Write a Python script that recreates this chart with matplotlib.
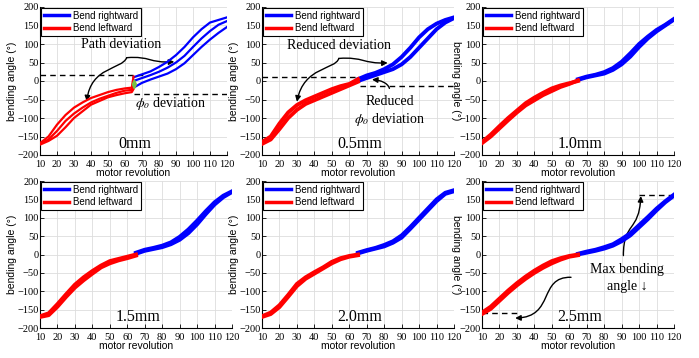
import matplotlib.pyplot as plt
from matplotlib.patches import FancyArrowPatch
from matplotlib.path import Path

plt.rcParams["mathtext.fontset"] = "stix"

SANS = ["Liberation Sans", "DejaVu Sans"]
SERIF = ["Liberation Serif", "DejaVu Serif"]

# x positions (motor revolution) of the read-off samples
X_LEFT = [10, 15, 20, 25, 30, 35, 40, 45, 50, 55, 60, 65]
X_LEFT_0 = [10, 15, 20, 25, 30, 35, 40, 45, 50, 55, 60, 64, 65]
X_RIGHT = [65, 70, 75, 80, 85, 90, 95, 100, 105, 110, 115, 120]

# 0mm
red_0mm = [
    [-168, -150, -118, -92, -72, -58, -46, -38, -30, -24, -20, -18, 12],
    [-170, -158, -135, -108, -88, -72, -58, -48, -40, -32, -26, -24, 0],
    [-172, -162, -148, -125, -100, -82, -64, -54, -44, -38, -33, -30, -22],
]
blue_0mm = [
    [10, 18, 26, 38, 52, 70, 92, 118, 140, 158, 165, 172],
    [0, 8, 16, 25, 36, 50, 68, 92, 115, 135, 152, 162],
    [-18, -5, 4, 12, 20, 32, 48, 70, 92, 112, 130, 146],
]
# 0.5mm
red_05mm = [
    [-165, -150, -115, -85, -65, -52, -42, -32, -22, -14, -8, 5],
    [-170, -158, -130, -100, -78, -62, -52, -42, -32, -22, -12, -2],
]
blue_05mm = [
    [5, 15, 22, 32, 45, 65, 90, 118, 140, 155, 165, 172],
    [0, 8, 16, 24, 32, 45, 65, 90, 115, 140, 158, 170],
]
# 1.0mm
red_10mm = [
    [-165, -145, -122, -100, -80, -60, -45, -32, -20, -12, -6, 0],
    [-168, -150, -128, -106, -85, -66, -52, -38, -27, -16, -8, 2],
]
blue_10mm = [
    [5, 12, 17, 24, 35, 52, 75, 100, 120, 138, 152, 168],
    [3, 10, 15, 20, 30, 45, 66, 92, 115, 134, 150, 166],
]
# 1.5mm
red_15mm = [
    [-168, -160, -135, -108, -82, -62, -45, -30, -18, -12, -6, 0],
    [-170, -165, -142, -115, -90, -70, -52, -35, -24, -16, -10, -3],
]
blue_15mm = [
    [5, 13, 18, 24, 33, 48, 68, 92, 118, 142, 160, 172],
    [2, 10, 15, 20, 28, 40, 58, 82, 110, 136, 156, 170],
]
# 2.0mm
red_20mm = [
    [-168, -158, -138, -110, -80, -62, -48, -35, -20, -10, -4, 0],
    [-170, -162, -143, -115, -86, -66, -52, -38, -24, -13, -6, -2],
]
blue_20mm = [
    [5, 12, 18, 26, 36, 52, 75, 100, 125, 150, 168, 175],
    [3, 10, 16, 22, 32, 46, 70, 95, 120, 145, 165, 172],
]
# 2.5mm
red_25mm = [
    [-158, -142, -120, -98, -78, -60, -44, -30, -18, -10, -4, 0],
    [-162, -148, -126, -104, -84, -66, -50, -36, -24, -14, -6, -2],
]
blue_25mm = [
    [2, 8, 13, 20, 28, 42, 58, 80, 102, 125, 145, 163],
    [0, 5, 10, 16, 24, 36, 52, 74, 96, 120, 142, 160],
]

panel_labels = ["0mm", "0.5mm", "1.0mm", "1.5mm", "2.0mm", "2.5mm"]
x_ticks = list(range(10, 121, 10))
y_ticks = list(range(-200, 201, 50))

W, H = 699, 358
# axes boxes in pixels: left, top, right, bottom
boxes = [
    (40, 7, 227, 155), (262, 7, 454, 155), (482, 7, 674, 155),
    (40, 181, 232, 328), (262, 181, 454, 328), (482, 181, 674, 328),
]
# x pixel of the y label centre
ylabel_px = [12, 234, 456, 12, 234, 456]


def s_arrow(ax, pts, lw=1.0):
    path = Path(pts, [Path.MOVETO, Path.CURVE4, Path.CURVE4, Path.CURVE4])
    ax.add_patch(FancyArrowPatch(path=path, arrowstyle="-|>", mutation_scale=8,
                                 color="black", lw=lw))


fig = plt.figure(figsize=(W / 100, H / 100), dpi=100)

data = [
    (X_LEFT_0, red_0mm, blue_0mm),
    (X_LEFT, red_05mm, blue_05mm),
    (X_LEFT, red_10mm, blue_10mm),
    (X_LEFT, red_15mm, blue_15mm),
    (X_LEFT, red_20mm, blue_20mm),
    (X_LEFT, red_25mm, blue_25mm),
]

axes = []
for i, (l, t, r, b) in enumerate(boxes):
    ax = fig.add_axes([l / W, 1 - b / H, (r - l) / W, (b - t) / H])
    axes.append(ax)
    xl, reds, blues = data[i]
    lw = 1.6 if i == 0 else 2.8
    for k, ys in enumerate(blues):
        ax.plot(X_RIGHT, ys, color="#0000ff", lw=lw,
                label="Bend rightward" if k == 0 else None, zorder=3)
    for k, ys in enumerate(reds):
        ax.plot(xl, ys, color="#ff0000", lw=lw,
                label="Bend leftward" if k == 0 else None, zorder=3)

    ax.set_xlim(10, 120)
    ax.set_ylim(-200, 200)
    ax.set_xticks(x_ticks)
    ax.set_yticks(y_ticks)
    ax.grid(True, color="#dddddd", lw=0.6)
    ax.set_axisbelow(True)
    for sp in ["top", "right"]:
        ax.spines[sp].set_visible(False)
    for sp in ["left", "bottom"]:
        ax.spines[sp].set_linewidth(0.8)
    ax.tick_params(direction="in", length=3, width=0.6, labelsize=7.5)
    ax.tick_params(axis="y", pad=1)
    ax.tick_params(axis="x", pad=3.5)
    for lab in ax.get_xticklabels() + ax.get_yticklabels():
        lab.set_family(SERIF)
    ax.set_xlabel("motor revolution", family=SANS, fontsize=7.5, labelpad=-0.5)
    rot = 270 if i in (2, 5) else 90
    ax.set_ylabel("bending angle (°)", family=SANS, fontsize=7.5, rotation=rot,
                  va="center")
    ax.yaxis.set_label_coords((ylabel_px[i] - l) / (r - l), 0.5)

    leg = ax.legend(loc="upper left", prop={"family": SANS, "size": 7},
                    fancybox=False, edgecolor="black", framealpha=1,
                    borderaxespad=0.1, handlelength=2.6, handletextpad=0.4,
                    borderpad=0.3, labelspacing=0.25)
    leg.get_frame().set_linewidth(0.8)
    for h in leg.legend_handles:
        h.set_linewidth(2.5)

    ax.text(66, -170, panel_labels[i], family=SERIF, fontsize=11.5,
            ha="center", va="center")

# 0mm annotations
ax = axes[0]
ax.plot([10, 71], [15, 15], "k--", lw=1, dashes=(4, 3))
ax.plot([65, 120], [-35, -35], "k--", lw=1, dashes=(4, 3))
ax.annotate("", xy=(65.5, 14), xytext=(65.5, -32),
            arrowprops=dict(arrowstyle="<|-|>", color="#77c043", lw=1.3,
                            mutation_scale=6))
ax.text(57.5, 98, "Path deviation", family=SERIF, fontsize=10,
        ha="center", va="center")
ax.text(87, -61, r"$\phi_o$ deviation", family=SERIF, fontsize=10,
        ha="center", va="center")
s_arrow(ax, [(61, 63), (58, 30), (40, 40), (37.5, -55)])
s_arrow(ax, [(61, 63), (75, 68), (74, 48), (89, 52)])

# 0.5mm annotations
ax = axes[1]
ax.plot([10, 66], [10, 10], "k--", lw=1, dashes=(4, 3))
ax.plot([66, 120], [-13, -13], "k--", lw=1, dashes=(4, 3))
ax.text(54, 97, "Reduced deviation", family=SERIF, fontsize=10,
        ha="center", va="center")
ax.text(83, -56, "Reduced", family=SERIF, fontsize=10, ha="center", va="center")
ax.text(83, -103, r"$\phi_o$ deviation", family=SERIF, fontsize=10,
        ha="center", va="center")
s_arrow(ax, [(54, 61), (52, 30), (34, 40), (30, -56)])
s_arrow(ax, [(54, 61), (68, 66), (68, 46), (82, 49)])
s_arrow(ax, [(83, -20), (82, -5), (78, 2), (73, 4)])

# 2.5mm annotations
ax = axes[5]
ax.plot([10, 30], [-160, -160], "k--", lw=1, dashes=(4, 3))
ax.plot([100, 120], [163, 163], "k--", lw=1, dashes=(4, 3))
ax.text(93, -42, "Max bending", family=SERIF, fontsize=10,
        ha="center", va="center")
ax.text(93, -88, "angle ↓", family=SERIF, fontsize=10,
        ha="center", va="center")
s_arrow(ax, [(61, -62), (42, -60), (52, -170), (29, -173)])
s_arrow(ax, [(91, -3), (91, 90), (100, 60), (101, 159)])

fig.savefig("out.png", dpi=100)
